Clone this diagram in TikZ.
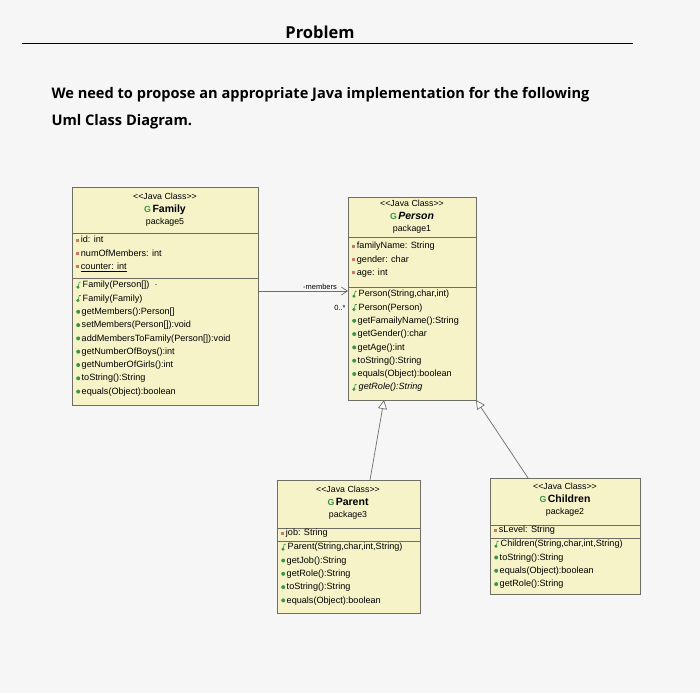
\documentclass[tikz,border=0pt]{standalone}
\usepackage{fontspec}
\setmainfont{Liberation Sans}
\newfontfamily\titlefont{Open Sans}
\usetikzlibrary{arrows.meta}
\definecolor{boxfill}{RGB}{246,243,200}
\definecolor{boxline}{RGB}{110,110,100}
\definecolor{pubc}{RGB}{60,150,70}
\definecolor{privc}{RGB}{205,120,100}
\newcommand{\pb}{\tikz[baseline=-2.6pt]\fill[pubc] (0,0) circle (2pt);\,}
\newcommand{\pv}{\tikz[baseline=-2.6pt]\fill[privc] (-1.6pt,-1.6pt) rectangle (1.6pt,1.6pt);\,}
\newcommand{\cn}{\tikz[baseline=-2.6pt]{\fill[pubc] (0,-2pt) circle (1.7pt);\draw[pubc,line width=0.6pt] (0.6pt,-1pt) -- (1.2pt,3pt) -- (3pt,3pt);}\,}
\tikzset{
  cls/.style={draw=boxline, fill=boxfill, line width=0.7pt, anchor=north west, inner sep=0pt},
  lines/.style={anchor=north west, align=left, inner sep=0pt, font=\fontsize{9.1}{13.3}\selectfont},
  head/.style={align=center, inner sep=0pt, font=\fontsize{8.8}{12.5}\selectfont},
  conn/.style={draw=boxline, line width=0.7pt},
  inh/.style={conn, -{Triangle[open, length=9pt, width=9pt, fill=white]}},
  assoc/.style={conn, -{Straight Barb[length=6pt, width=8pt]}},
  lbl/.style={inner sep=0pt, font=\fontsize{7.5}{8}\selectfont}
}
\begin{document}
\begin{tikzpicture}[x=1pt,y=-1pt]
\fill[white!93!gray] (0,0) rectangle (700,693);
\useasboundingbox (0,0) rectangle (700,693);
\node[font=\titlefont\bfseries\fontsize{16.5}{18}\selectfont] (title) at (320,32) {Problem};
\draw[line width=0.9pt] (22,43) -- (633,43);
\node[anchor=west, font=\titlefont\bfseries\fontsize{14.6}{27}\selectfont, align=left] (intro) at (48,108) {We need to propose an appropriate Java implementation for the following\\Uml Class Diagram.};
% Family
\node[cls, minimum width=186pt, minimum height=218pt] (family) at (72,187) {};
\draw[boxline, line width=0.7pt] (72,233) -- (258,233) (72,278) -- (258,278);
\node[head] at (165,210) {{<}{<}Java Class{>}{>}\\\textcolor{pubc}{\textbf{G}}\,\textbf{\fontsize{10.5}{12}\selectfont Family}\\package5};
\node[lines] at (76,236) {\pv id: int\\\pv numOfMembers: int\\\pv\underline{counter: int}};
\node[lines] at (76,281) {\cn Family(Person[])\ \ ·\\\cn Family(Family)\\\pb getMembers():Person[]\\\pb setMembers(Person[]):void\\\pb addMembersToFamily(Person[]):void\\\pb getNumberOfBoys():int\\\pb getNumberOfGirls():int\\\pb toString():String\\\pb equals(Object):boolean};
% Person
\node[cls, minimum width=128pt, minimum height=203pt] (person) at (348,197) {};
\draw[boxline, line width=0.7pt] (348,237) -- (476,237) (348,287) -- (476,287);
\node[head] at (412,217) {{<}{<}Java Class{>}{>}\\\textcolor{pubc}{\textbf{G}}\,\textbf{\textit{\fontsize{10.5}{12}\selectfont Person}}\\package1};
\node[lines] at (352,242) {\pv familyName: String\\\pv gender: char\\\pv age: int};
\node[lines] at (352,290) {\cn Person(String,char,int)\\\cn Person(Person)\\\pb getFamailyName():String\\\pb getGender():char\\\pb getAge():int\\\pb toString():String\\\pb equals(Object):boolean\\\cn \textit{getRole():String}};
% Parent
\node[cls, minimum width=143pt, minimum height=133pt] (parent) at (277,480) {};
\draw[boxline, line width=0.7pt] (277,528) -- (420,528) (277,541) -- (420,541);
\node[head] at (348,503) {{<}{<}Java Class{>}{>}\\\textcolor{pubc}{\textbf{G}}\,\textbf{\fontsize{10.5}{12}\selectfont Parent}\\package3};
\node[lines] at (281,529) {\pv job: String};
\node[lines] at (281,543) {\cn Parent(String,char,int,String)\\\pb getJob():String\\\pb getRole():String\\\pb toString():String\\\pb equals(Object):boolean};
% Children
\node[cls, minimum width=150pt, minimum height=116pt] (children) at (490,478) {};
\draw[boxline, line width=0.7pt] (490,525) -- (640,525) (490,538) -- (640,538);
\node[head] at (565,500) {{<}{<}Java Class{>}{>}\\\textcolor{pubc}{\textbf{G}}\,\textbf{\fontsize{10.5}{12}\selectfont Children}\\package2};
\node[lines] at (494,526) {\pv sLevel: String};
\node[lines] at (494,540) {\cn Children(String,char,int,String)\\\pb toString():String\\\pb equals(Object):boolean\\\pb getRole():String};
% connectors
\coordinate (fa) at (258,291);
\coordinate (pa) at (348,291);
\draw[assoc] (fa) -- (pa);
\node[lbl] (mem) at (320,287) {-members};
\node[lbl] (mult) at (340,308) {0..*};
\coordinate (ptop) at (370,480);
\coordinate (pb1) at (384,400);
\draw[inh] (ptop) -- (pb1);
\coordinate (ctop) at (528,478);
\coordinate (pb2) at (476,400);
\draw[inh] (ctop) -- (pb2);
\end{tikzpicture}
\end{document}
